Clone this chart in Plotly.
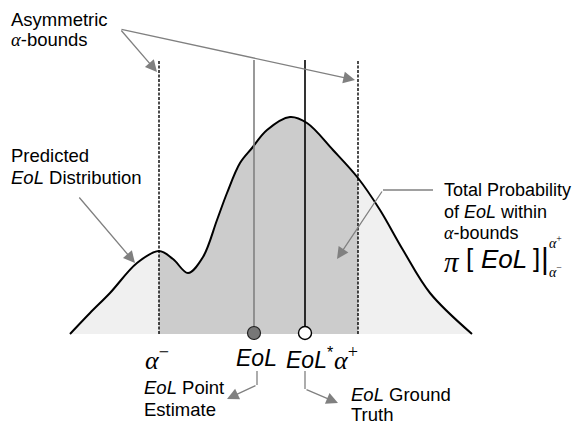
import plotly.graph_objects as go

# ---- data (x in drawing units, y = density height above baseline) ----
curve_left_x = [70, 90, 110, 137, 159]
curve_left_y = [0, 21, 41, 71, 83]
curve_mid_x = [159, 173, 188, 203, 217, 227, 240, 252, 267, 290, 307, 333, 358]
curve_mid_y = [83, 75, 61, 77, 114, 141, 171, 186, 204, 217, 211, 184, 156]
curve_right_x = [358, 380, 403, 430, 472]
curve_right_y = [156, 124, 84, 41, 0]

alpha_minus = 159
alpha_plus = 358
eol_est = 254
eol_true = 305
line_top = 274

curve_x = curve_left_x + curve_mid_x[1:] + curve_right_x[1:]
curve_y = curve_left_y + curve_mid_y[1:] + curve_right_y[1:]

BASE = 334  # pixel row of baseline
OFF = 8     # page body margin
def Y(p):
    return BASE - p

fig = go.Figure()

fig.add_trace(go.Scatter(x=curve_x, y=curve_y, mode="lines", line=dict(width=0, shape="spline", color="#f0f0f0"),
                         fill="tozeroy", fillcolor="#f0f0f0", hoverinfo="skip"))
fig.add_trace(go.Scatter(x=curve_mid_x, y=curve_mid_y, mode="lines", line=dict(width=0, shape="spline", color="#cccccc"),
                         fill="tozeroy", fillcolor="#cccccc", hoverinfo="skip"))
fig.add_trace(go.Scatter(x=curve_x, y=curve_y, mode="lines", line=dict(width=2, shape="spline", color="black"),
                         hoverinfo="skip"))

for a in [alpha_minus, alpha_plus]:
    fig.add_trace(go.Scatter(x=[a, a], y=[0, line_top], mode="lines",
                             line=dict(color="black", width=1.4, dash="3px,1.5px"), hoverinfo="skip"))
fig.add_trace(go.Scatter(x=[eol_est, eol_est], y=[1, line_top], mode="lines",
                         line=dict(color="#808080", width=1.6), hoverinfo="skip"))
fig.add_trace(go.Scatter(x=[eol_true, eol_true], y=[1, line_top], mode="lines",
                         line=dict(color="black", width=1.6), hoverinfo="skip"))
fig.add_trace(go.Scatter(x=[eol_est], y=[1], mode="markers",
                         marker=dict(size=13, color="#777777", line=dict(color="#222222", width=1.2)), hoverinfo="skip"))
fig.add_trace(go.Scatter(x=[eol_true], y=[1], mode="markers",
                         marker=dict(size=13, color="white", line=dict(color="black", width=1.4)), hoverinfo="skip"))

SANS = "Liberation Sans, Arial, sans-serif"
SERIF = "Liberation Serif, Times New Roman, serif"
FS = 18
ann = []

def text(x, yp, t, size=FS, font=SANS, anchor="left"):
    ann.append(dict(x=x, y=Y(yp), text=t, showarrow=False, xanchor=anchor, yanchor="middle",
                    font=dict(family=font, size=size, color="black")))

ALPHA = "<span style='font-family:Liberation Serif'><i>α</i></span>"

text(9, 19, "Asymmetric", size=18.5)
text(9, 39, ALPHA + "-bounds", size=18.5)
text(9, 155, "Predicted", size=18.5)
text(9, 177, "<i>EoL</i> Distribution", size=18.5)
text(442, 190, "Total Probability")
text(442, 212, "of <i>EoL</i> within")
text(442, 233, ALPHA + "-bounds")
# pi expression
text(442, 262, "<i>π</i>", size=29, font=SERIF)
text(464, 258, "[", size=26)
text(479, 259, "<i>EoL</i>", size=26)
text(531, 258, "]", size=26)
ann.append(dict(x=545, y=Y(258), text="|", showarrow=False, xanchor="center", yanchor="middle",
                font=dict(family=SANS, size=30, color="black")))
text(547, 242, "<i>α</i><sup>+</sup>", size=14, font=SERIF)
text(547, 271, "<i>α</i><sup>−</sup>", size=14, font=SERIF)

# bottom labels
text(157, 358, "<i>α</i><sup>−</sup>", size=26, font=SERIF, anchor="center")
text(256, 358, "<i>EoL</i>", size=23, anchor="center")
text(310, 358, "<i>EoL</i><sup>*</sup>", size=23, anchor="center")
text(346, 358, "<i>α</i><sup>+</sup>", size=26, font=SERIF, anchor="center")

text(142, 387, "<i>EoL</i> Point", size=18.5)
text(142, 409, "Estimate", size=18.5)
text(349, 394, "<i>EoL</i> Ground", size=18.5)
text(349, 414, "Truth", size=18.5)

GRAY = "#808080"
def arrow(x0, y0, x1, y1):
    ann.append(dict(x=x1, y=Y(y1), ax=x0, ay=Y(y0), axref="x", ayref="y", xref="x", yref="y",
                    text="", showarrow=True, arrowhead=2, arrowsize=1.8, arrowwidth=1.3,
                    arrowcolor=GRAY, standoff=0, startstandoff=0))

arrow(120, 29, 157, 72)
arrow(120, 29, 355, 80)
arrow(78, 196, 135, 263)
arrow(383, 190, 337, 259)
arrow(257, 385, 227, 399)
arrow(305, 389, 338, 403)

shapes = [
    dict(type="line", x0=433, y0=Y(190), x1=383, y1=Y(190), line=dict(color=GRAY, width=1.3)),
    dict(type="line", x0=257, y0=Y(371), x1=257, y1=Y(385), line=dict(color=GRAY, width=1.3)),
    dict(type="line", x0=305, y0=Y(371), x1=305, y1=Y(389), line=dict(color=GRAY, width=1.3)),
]

fig.update_layout(
    width=580 - OFF, height=425 - OFF, margin=dict(l=0, r=0, t=0, b=0),
    paper_bgcolor="white", plot_bgcolor="white", showlegend=False,
    xaxis=dict(range=[OFF, 580], visible=False, fixedrange=True),
    yaxis=dict(range=[Y(425), Y(OFF)], visible=False, fixedrange=True),
    annotations=ann, shapes=shapes,
)

fig.write_html("out.html")
